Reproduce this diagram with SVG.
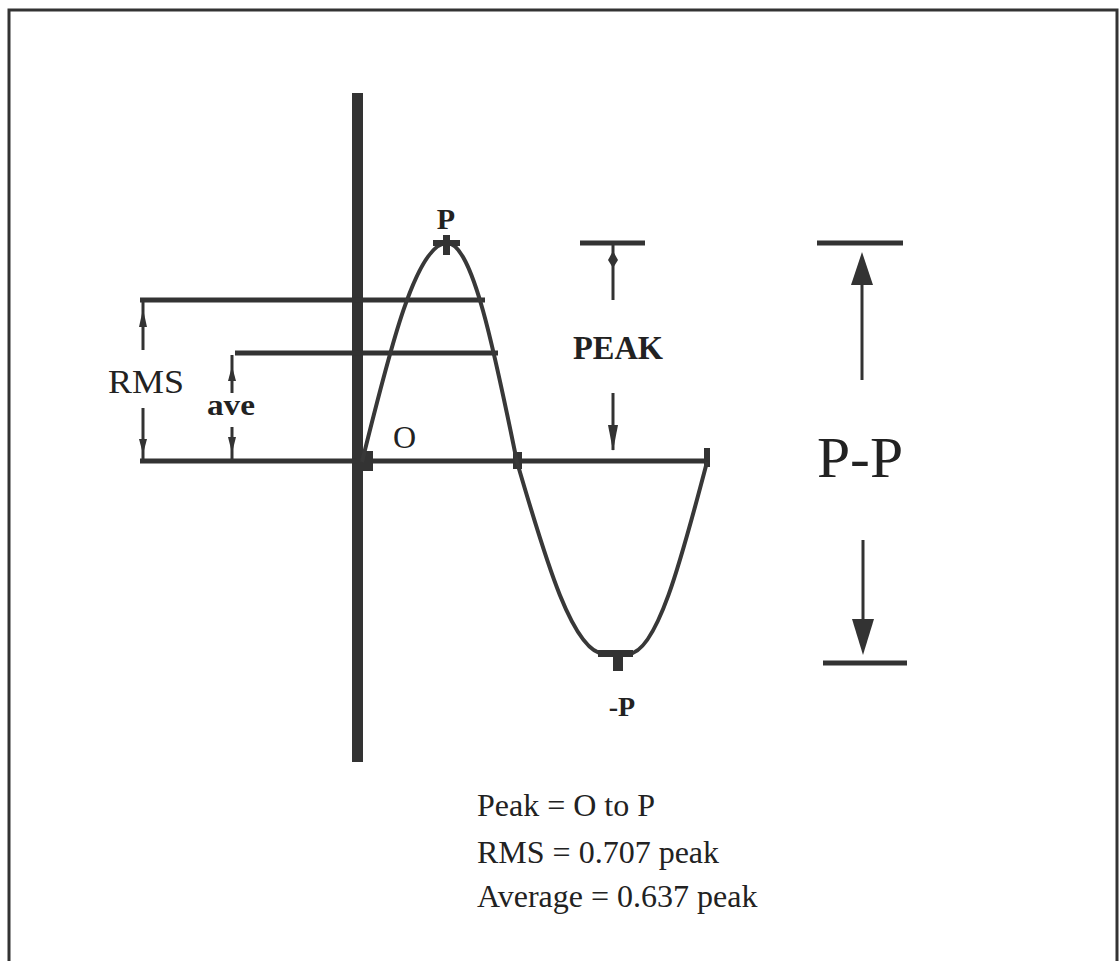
<svg xmlns="http://www.w3.org/2000/svg" width="1119" height="961" viewBox="0 0 1119 961">
<style>
.ln{stroke:#333;stroke-width:5;fill:none;stroke-linecap:butt}
.thin{stroke:#333;stroke-width:3;fill:none}
.wave{stroke:#383838;stroke-width:4;fill:none;stroke-linejoin:round}
.ah{fill:#333}
.lbl{font-family:"Liberation Serif","DejaVu Serif",serif;fill:#222}
.b{font-weight:bold}
.eq{font-family:"Liberation Serif",serif;font-size:32px;fill:#222}
</style>
<rect width="1119" height="961" fill="#fff"/>
<path d="M9,975 V10 H1117 V975" stroke="#333" stroke-width="3" fill="none"/>

<g id="axis">
<rect x="352" y="93" width="11" height="669" fill="#333"/>
</g>

<g id="levels">
<line class="ln" x1="140" y1="300" x2="485" y2="300"/>
<line class="ln" x1="235" y1="353" x2="498" y2="353"/>
<line class="ln" x1="140" y1="461" x2="707" y2="461"/>
<rect x="357" y="451" width="16" height="20" fill="#333"/>
<rect x="513" y="452" width="9" height="17" fill="#333"/>
<rect x="704" y="448" width="6" height="19" fill="#333"/>
</g>

<g id="wave">
<path class="wave" d="M362,462 C389.7,349.8 416.2,243 447,243 C472.3,243 494.2,349.8 517,462 C545.7,560.4 573.2,654 605,654 L628,654 C656.6,654 681.2,560.4 707,462"/>
<rect x="433" y="240" width="27" height="6" fill="#333"/>
<rect x="443" y="235" width="7" height="20" fill="#333"/>
<rect x="598" y="650" width="35" height="7" fill="#333"/>
<rect x="613" y="655" width="10" height="16" fill="#333"/>
</g>

<g id="labels">
<text class="lbl b" x="446" y="229" font-size="30" text-anchor="middle">P</text>
<text class="lbl" x="393" y="448" font-size="32">O</text>
<text class="lbl b" x="622" y="716" font-size="28" text-anchor="middle">-P</text>
<text class="lbl" x="108" y="393" font-size="34" textLength="76" lengthAdjust="spacingAndGlyphs">RMS</text>
<text class="lbl b" x="207" y="415" font-size="30" textLength="48" lengthAdjust="spacingAndGlyphs">ave</text>
<text class="lbl b" x="573" y="359" font-size="34" textLength="90" lengthAdjust="spacingAndGlyphs">PEAK</text>
<text class="lbl" x="817" y="477" font-size="58" textLength="86" lengthAdjust="spacingAndGlyphs">P-P</text>
</g>

<g id="dimensions">
<line class="thin" x1="143" y1="302" x2="143" y2="350"/>
<polygon class="ah" points="143,309 139,327 147,327"/>
<line class="thin" x1="143" y1="408" x2="143" y2="459"/>
<polygon class="ah" points="143,454 139,439 147,439"/>

<line class="thin" x1="232" y1="355" x2="232" y2="393"/>
<polygon class="ah" points="232,366 228,381 236,381"/>
<line class="thin" x1="232" y1="427" x2="232" y2="459"/>
<polygon class="ah" points="232,453 228,437 236,437"/>

<line class="ln" x1="580" y1="243" x2="645" y2="243"/>
<line class="thin" x1="613" y1="245" x2="613" y2="300"/>
<polygon class="ah" points="613,251 608,260 613,268 618,260"/>
<line class="thin" x1="613" y1="393" x2="613" y2="450"/>
<polygon class="ah" points="613,451 608,425 618,425"/>

<line class="ln" x1="817" y1="243" x2="903" y2="243"/>
<line class="thin" x1="862" y1="284" x2="862" y2="380"/>
<polygon class="ah" points="862,252 851,285 873,285"/>
<line class="thin" x1="863" y1="540" x2="863" y2="620"/>
<polygon class="ah" points="863,655 852,619 874,619"/>
<line class="ln" x1="823" y1="663" x2="907" y2="663"/>
</g>

<g id="formulas">
<text class="eq" x="477" y="816">Peak = O to P</text>
<text class="eq" x="477" y="863">RMS = 0.707 peak</text>
<text class="eq" x="477" y="907">Average = 0.637 peak</text>
</g>
</svg>
